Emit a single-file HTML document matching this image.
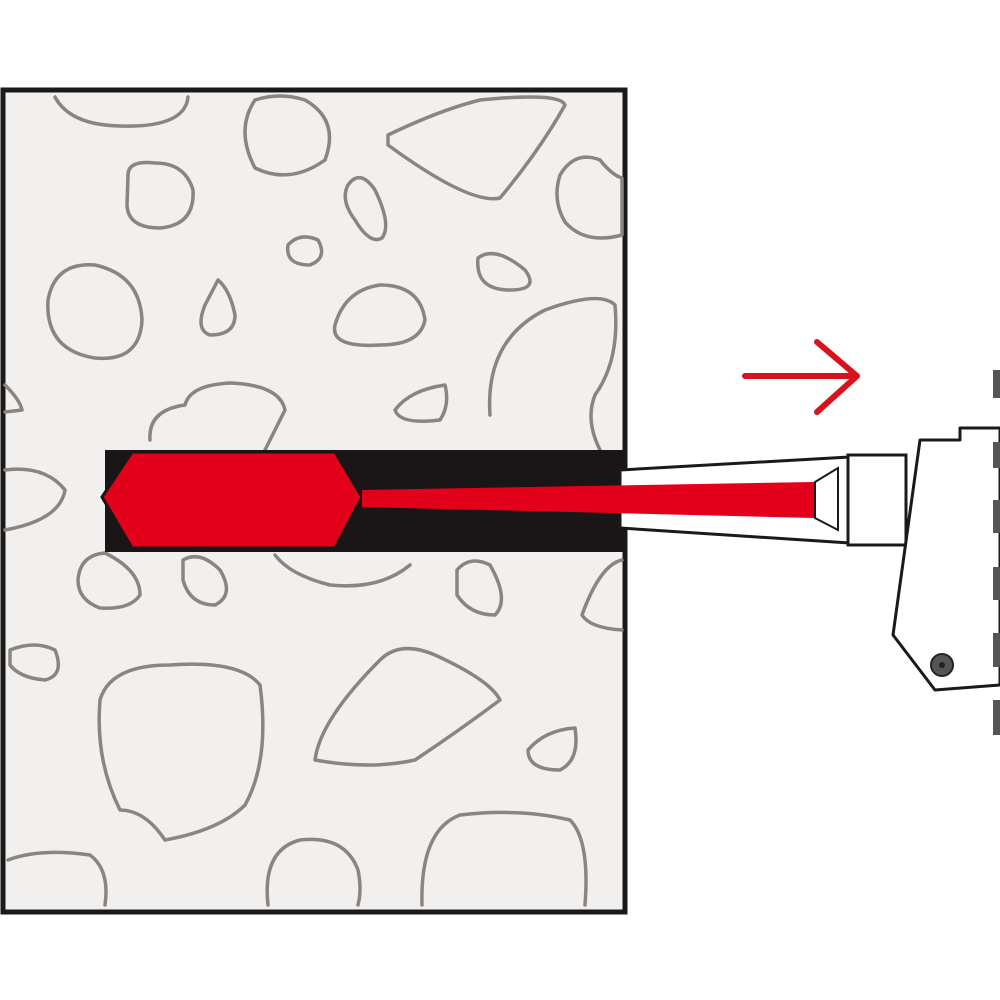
<!DOCTYPE html>
<html><head><style>html,body{margin:0;padding:0;background:#fff;width:1000px;height:1000px;overflow:hidden}</style></head>
<body>
<svg width="1000" height="1000" viewBox="0 0 1000 1000" xmlns="http://www.w3.org/2000/svg">
<rect x="3" y="90" width="622" height="822" fill="#f1f0ef" stroke="#1a1a1a" stroke-width="5"/>
<g fill="none" stroke="#8b8580" stroke-width="3.5" stroke-linejoin="round" stroke-linecap="round">
<path d="M55,97 Q70,125 120,126 Q185,128 188,97"/>
<path d="M255,100 Q235,130 255,168 Q290,185 325,160 Q340,120 305,100 Q280,92 255,100Z"/>
<path d="M388,135 Q440,110 480,100 Q560,92 565,105 Q540,150 500,198 Q470,205 388,145Z"/>
<path d="M128,175 Q128,160 155,163 Q185,163 193,190 Q195,225 160,228 Q128,228 127,205Z"/>
<path d="M348,185 Q360,168 375,190 Q392,225 382,238 Q370,245 355,220 Q340,200 348,185Z"/>
<path d="M560,175 Q575,150 600,160 Q612,175 622,178 L622,235 Q585,245 565,222 Q552,200 560,175Z"/>
<path d="M288,245 Q300,232 318,240 Q328,258 310,265 Q285,265 288,245Z"/>
<path d="M48,300 Q55,262 95,265 Q140,275 142,320 Q140,362 95,358 Q45,350 48,300Z"/>
<path d="M218,280 Q230,290 235,315 Q235,335 210,335 Q195,330 205,305Z"/>
<path d="M335,325 Q345,290 380,285 Q420,285 425,320 Q420,345 380,345 Q330,348 335,325Z"/>
<path d="M478,258 Q495,245 525,270 Q540,290 510,290 Q475,290 478,258Z"/>
<path d="M490,415 Q485,340 545,310 Q600,290 615,305 Q620,360 595,395 Q585,420 600,450"/>
<path d="M150,440 Q148,410 185,405 Q190,385 230,383 Q280,385 285,410 Q270,440 265,450"/>
<path d="M395,410 Q410,390 445,385 Q450,405 440,420 Q400,425 395,410Z"/>
<path d="M5,385 Q20,400 22,410 L5,412"/>
<path d="M5,470 Q45,465 65,490 Q60,520 5,530"/>
<path d="M78,580 Q80,555 105,553 Q140,570 140,595 Q130,610 100,608 Q78,600 78,580Z"/>
<path d="M183,560 Q200,550 220,570 Q235,595 215,605 Q190,605 183,580Z"/>
<path d="M275,555 Q290,575 330,585 Q380,590 410,565"/>
<path d="M457,570 Q470,555 490,565 Q510,600 495,615 Q470,615 457,595Z"/>
<path d="M622,560 Q600,565 582,615 Q590,628 622,630"/>
<path d="M10,650 Q35,640 55,650 Q65,675 45,680 Q20,678 10,665Z"/>
<path d="M100,700 Q110,665 170,665 Q240,660 260,685 Q270,760 245,805 Q220,830 165,840 Q145,810 120,810 Q95,760 100,700Z"/>
<path d="M315,760 Q320,720 380,660 Q400,640 435,655 Q490,680 500,700 Q460,730 415,760 Q370,770 315,760Z"/>
<path d="M528,750 Q545,730 575,728 Q580,760 560,770 Q528,770 528,750Z"/>
<path d="M8,860 Q40,848 90,855 Q110,870 105,905"/>
<path d="M268,905 Q262,850 300,840 Q345,835 358,870 Q362,890 358,905"/>
<path d="M422,905 Q420,830 460,815 Q520,808 570,820 Q590,840 585,905"/>
</g>
<rect x="105" y="450" width="520" height="102" fill="#1a1516"/>
<polygon points="102,497 132,452 335,452 362,497 335,548 132,548" fill="#e2001a" stroke="#1a1516" stroke-width="3"/>
<polygon points="620,470 850,457 850,543 620,528" fill="#fff" stroke="#1a1a1a" stroke-width="3"/>
<polygon points="362,490 815,482 838,468 838,530 815,518 362,507" fill="#e2001a"/>
<polygon points="815,482 838,468 838,530 815,518" fill="#fff" stroke="#1a1a1a" stroke-width="2"/>
<rect x="848" y="455" width="58" height="90" fill="#fff" stroke="#1a1a1a" stroke-width="3"/>
<polygon points="920,440 960,440 960,428 1000,428 1000,685 935,690 893,635" fill="#fff" stroke="#1a1a1a" stroke-width="3" stroke-linejoin="round"/>
<circle cx="942" cy="665" r="11" fill="#555" stroke="#222" stroke-width="2"/>
<circle cx="942" cy="665" r="3" fill="#222"/>
<g fill="#555"><rect x="993" y="370" width="7" height="28"/><rect x="993" y="442" width="7" height="26"/><rect x="993" y="500" width="7" height="33"/><rect x="993" y="567" width="7" height="33"/><rect x="993" y="633" width="7" height="34"/><rect x="993" y="700" width="7" height="35"/></g>
<g stroke="#d7141e" stroke-width="6" fill="none" stroke-linecap="round" stroke-linejoin="round"><path d="M745,376 L855,376 M817,342 L857,376 L817,412"/></g>
</svg>
</body></html>
